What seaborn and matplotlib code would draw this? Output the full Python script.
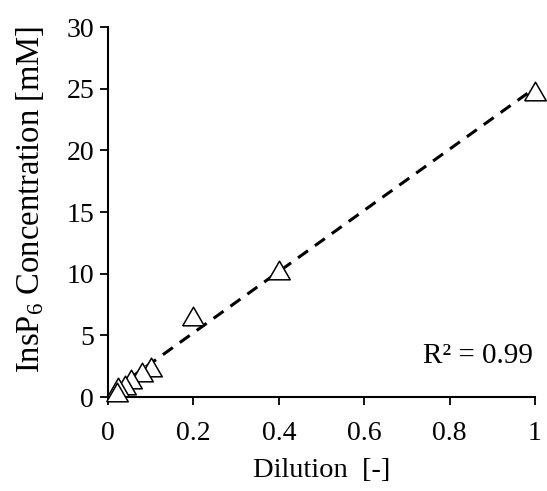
import numpy as np
import matplotlib
matplotlib.use("Agg")
import matplotlib.pyplot as plt
import seaborn as sns

# Datos
dilution = [1.0, 0.4, 0.2, 0.1, 0.08, 0.055, 0.04, 0.024, 0.02]
conc_mM = [24.8, 10.3, 6.6, 2.4, 2.0, 1.5, 1.0, 0.8, 0.4]
r2_label = "R² = 0.99"

sns.set_style("ticks")
plt.rcParams["font.family"] = ["Liberation Serif", "DejaVu Serif"]
plt.rcParams["mathtext.fontset"] = "custom"
plt.rcParams["mathtext.rm"] = "Liberation Serif"
plt.rcParams["mathtext.it"] = "Liberation Serif:italic"
for key in ["text.color", "axes.labelcolor", "xtick.color", "ytick.color",
            "axes.edgecolor"]:
    plt.rcParams[key] = "black"

fig = plt.figure(figsize=(5.47, 4.91), dpi=100)
ax = fig.add_axes([0.1974, 0.1914, 0.7806, 0.7536])

# Ajuste lineal (línea discontinua)
slope, intercept = np.polyfit(dilution, conc_mM, 1)
x_fit = np.array([min(dilution) * 0.5, max(dilution)])
sns.lineplot(x=x_fit, y=slope * x_fit + intercept, ax=ax, color="black",
             linewidth=2.2, linestyle=(0, (4, 2.8)), zorder=2)

# triángulo equilátero (como el marcador de Excel)
tri = [(-1, -0.866), (1, -0.866), (0, 0.866), (-1, -0.866)]
sns.scatterplot(x=dilution, y=conc_mM, ax=ax, marker=tri, s=240,
                facecolor="white", edgecolor="black", linewidth=1.1,
                zorder=3, clip_on=False)

ax.set_xlim(0, 1)
ax.set_ylim(0, 30)
ax.set_xticks([0, 0.2, 0.4, 0.6, 0.8, 1.0])
ax.set_xticklabels(["0", "0.2", "0.4", "0.6", "0.8", "1"])
ax.set_yticks(range(0, 31, 5))

for side in ["top", "right"]:
    ax.spines[side].set_visible(False)
for side in ["left", "bottom"]:
    ax.spines[side].set_linewidth(1.5)
ax.tick_params(direction="out", length=6, width=1.3, labelsize=20)
ax.tick_params(axis="x", pad=11)
ax.tick_params(axis="y", pad=4)

ax.set_xlabel("Dilution  [-]", fontsize=20.5, labelpad=9)
ax.set_ylabel(r"InsP$_{\mathrm{6}}$ Concentration [mM]", fontsize=23.5)
ax.yaxis.set_label_coords(-0.145, 0.535)

ax.text(0.995, 0.11, r2_label, transform=ax.transAxes, ha="right",
        va="center", fontsize=21)

fig.savefig("out.png", dpi=100)
